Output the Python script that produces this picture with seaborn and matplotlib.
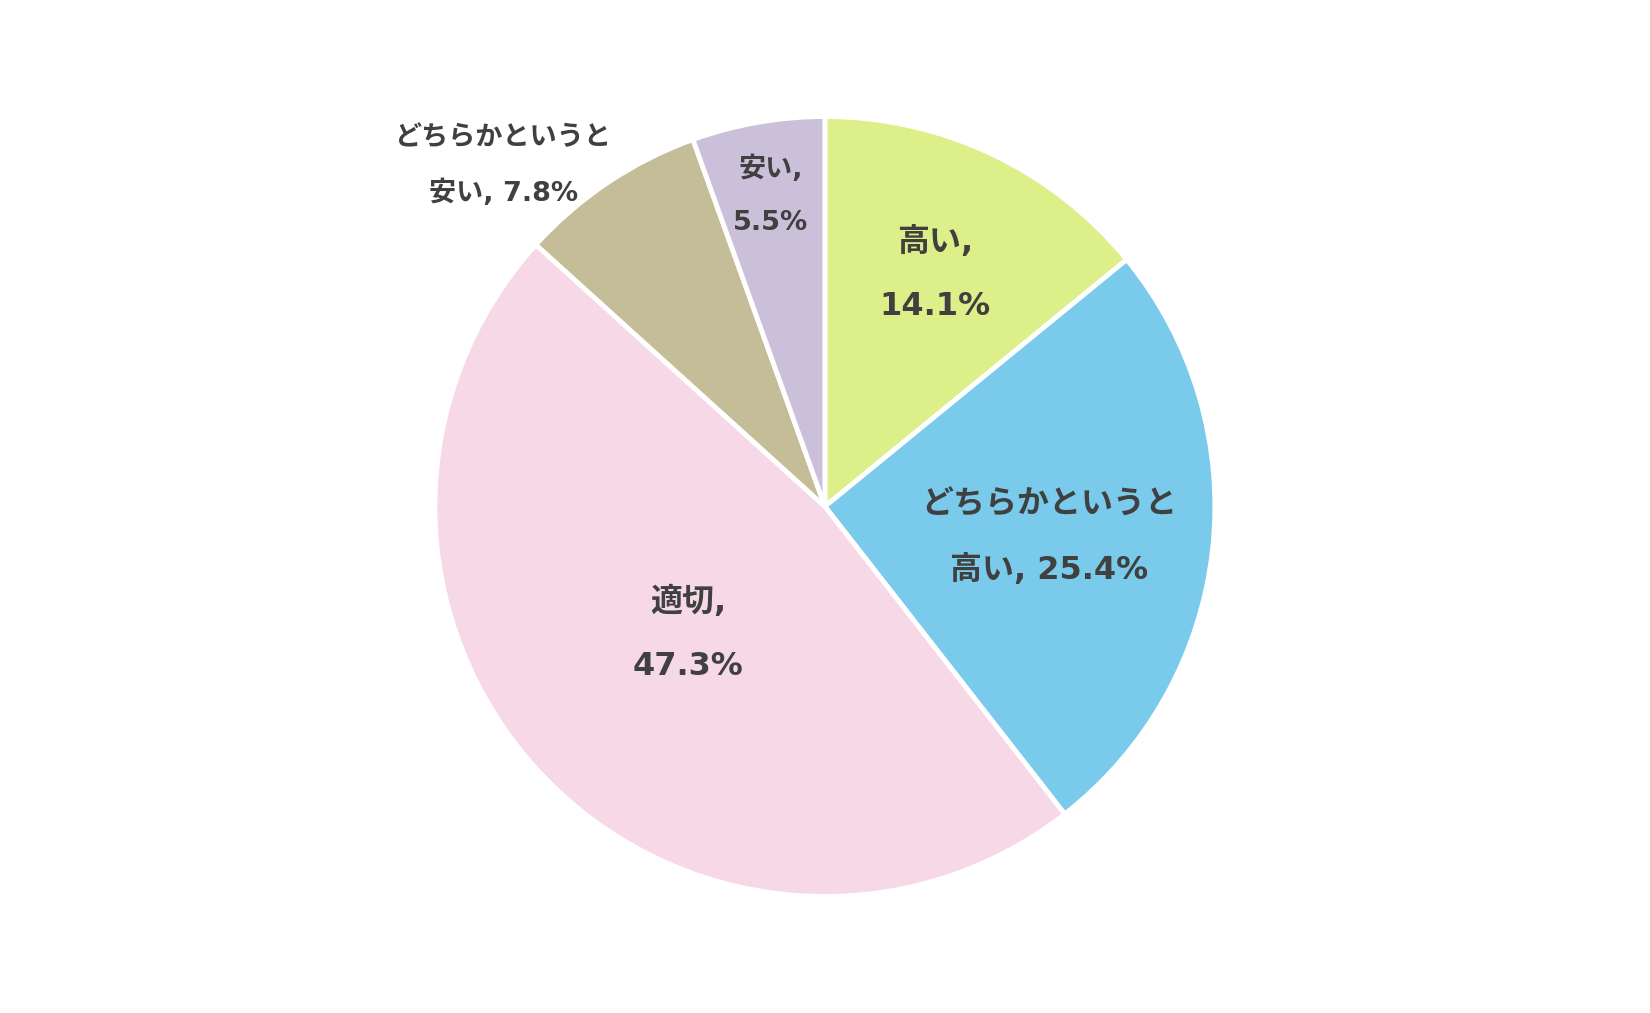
import numpy as np
import seaborn as sns
import matplotlib.pyplot as plt

# ==============================
# Data
# ==============================
categories = ["高い", "どちらかというと\n高い", "適切", "どちらかというと\n安い", "安い"]
shares = [14.1, 25.4, 47.3, 7.8, 5.5]
colors = ["#dcef88", "#7acbeb", "#f7d8e7", "#c4bd97", "#cbc0da"]

# label layout (radial distance, angle nudge in degrees, font size)
label_dist = [0.66, 0.58, 0.48, 1.20, 0.81]
label_nudge = [0, -1.5, 0, 9.5, 0]
label_size = [23, 23, 23, 19.5, 19.5]
label_breaks = [True, False, True, False, True]

# ==============================
# Plot
# ==============================
sns.set_theme(style="white")
plt.rcParams["font.family"] = ["DejaVu Sans", "Noto Sans CJK JP"]

fig = plt.figure(figsize=(16.5, 10.13), dpi=100)
ax = fig.add_axes([0.2636, 0.1145, 0.4727, 0.771])

wedges, _ = ax.pie(
    shares,
    colors=colors,
    startangle=90,
    counterclock=False,
    radius=1,
    wedgeprops=dict(edgecolor="white", linewidth=3.5),
)

for w, cat, val, d, nudge, fs, brk in zip(
    wedges, categories, shares, label_dist, label_nudge, label_size, label_breaks
):
    ang = np.deg2rad((w.theta1 + w.theta2) / 2 + nudge)
    name = cat.replace("\n", "") if brk else cat
    sep = ",\n" if brk else ", "
    ax.text(
        d * np.cos(ang), d * np.sin(ang), f"{name}{sep}{val}%",
        ha="center", va="center", fontsize=fs, fontweight="bold",
        color="#404040", linespacing=2.35,
    )

ax.set_xlim(-1, 1)
ax.set_ylim(-1, 1)
ax.set_aspect("equal")
ax.axis("off")

fig.savefig("out.png", dpi=100)
